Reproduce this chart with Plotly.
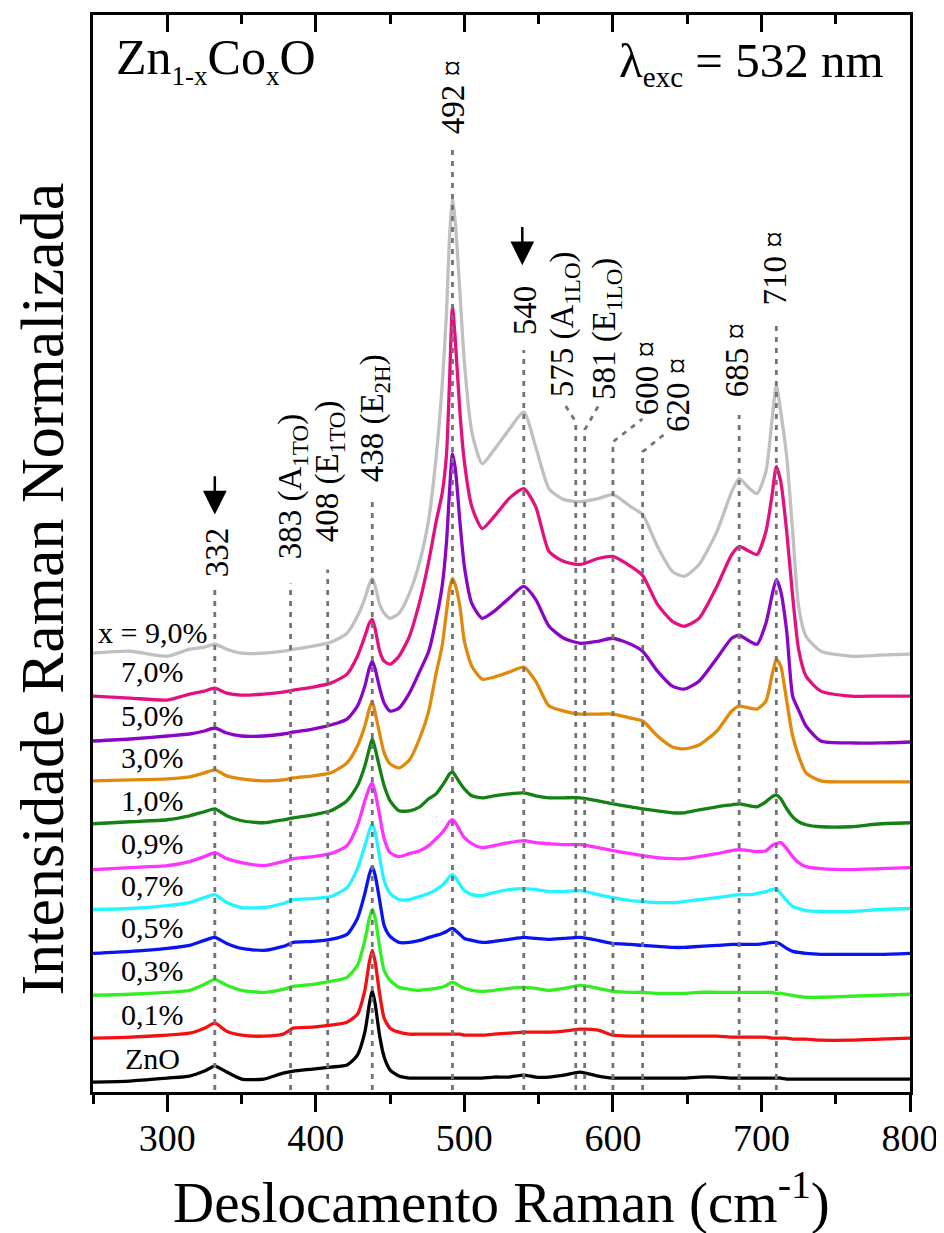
import plotly.graph_objects as go

# Raman shift grid (cm^-1)
shift_cm = [250, 275, 300, 315, 325, 332, 340, 350, 365, 378,
            385, 398, 410, 421, 428, 433, 436, 438, 440, 443,
            446, 450, 456, 463, 470, 476, 481, 485, 488, 490,
            492, 494, 497, 500, 505, 512, 520, 530, 540, 548,
            557, 567, 578, 590, 600, 612, 620, 630, 640, 648,
            658, 670, 680, 685, 692, 697, 703, 707, 710, 713,
            717, 721, 725, 730, 740, 760, 780, 800]

# Normalized (stacked) Raman intensities, arbitrary units
int_ZnO = [10, 11, 14, 16, 21, 26, 20, 13, 13, 19,
           21, 23, 25, 27, 37, 60, 88, 102, 88, 56,
           35, 22, 16, 14, 14, 14, 14, 14, 14, 14,
           14, 14, 14, 14, 14, 14, 15, 15, 17, 15,
           15, 17, 20, 16, 14, 14, 14, 14, 14, 14,
           15, 15, 14, 14, 14, 14, 14, 14, 14, 14,
           13, 13, 13, 13, 13, 13, 13, 13]
int_01 = [54, 55, 57, 59, 64, 69, 61, 57, 56, 58,
          64, 65, 67, 70, 78, 102, 130, 142, 130, 98,
          74, 64, 60, 58, 58, 58, 58, 58, 58, 58,
          58, 58, 58, 57, 57, 57, 58, 59, 60, 60,
          60, 61, 63, 62, 57, 56, 56, 56, 56, 56,
          56, 56, 55, 55, 55, 55, 55, 54, 54, 54,
          54, 53, 53, 53, 52, 52, 53, 54]
int_03 = [97, 98, 100, 102, 108, 113, 107, 102, 100, 103,
          106, 108, 111, 115, 127, 152, 174, 183, 174, 145,
          122, 112, 105, 103, 102, 103, 104, 105, 107, 109,
          110, 109, 106, 104, 102, 101, 102, 104, 105, 104,
          102, 104, 107, 104, 101, 100, 100, 99, 99, 99,
          100, 100, 100, 100, 100, 100, 100, 100, 99, 99,
          98, 97, 96, 95, 95, 96, 97, 98]
int_05 = [139, 141, 144, 147, 152, 155, 149, 144, 142, 146,
          150, 151, 153, 158, 174, 199, 218, 226, 217, 192,
          167, 156, 150, 150, 152, 155, 157, 159, 161, 163,
          164, 162, 158, 154, 152, 150, 151, 153, 155, 154,
          153, 154, 155, 152, 149, 148, 147, 146, 145, 145,
          146, 147, 148, 148, 148, 148, 149, 150, 150, 148,
          144, 141, 140, 139, 138, 138, 138, 139]
int_07 = [183, 184, 187, 190, 195, 198, 190, 185, 185, 189,
          193, 194, 196, 205, 224, 247, 262, 269, 260, 235,
          212, 199, 193, 193, 196, 199, 203, 207, 212, 216,
          218, 215, 208, 202, 198, 197, 200, 203, 204, 203,
          201, 201, 202, 198, 195, 192, 191, 190, 190, 191,
          193, 195, 197, 198, 198, 199, 201, 203, 204, 199,
          192, 186, 184, 182, 181, 181, 183, 184]
int_09 = [223, 225, 227, 231, 236, 240, 234, 230, 227, 231,
          234, 236, 239, 247, 267, 292, 305, 310, 300, 277,
          254, 240, 236, 239, 242, 247, 254, 260, 266, 271,
          273, 270, 262, 255, 249, 245, 247, 250, 252, 250,
          249, 248, 248, 245, 242, 239, 237, 235, 234, 234,
          236, 239, 242, 243, 242, 241, 242, 247, 249, 250,
          244, 236, 230, 226, 224, 223, 224, 225]
int_10 = [269, 271, 273, 277, 281, 284, 277, 272, 270, 273,
          275, 278, 282, 292, 307, 327, 344, 354, 344, 325,
          307, 292, 282, 282, 286, 294, 299, 307, 314, 319,
          321, 317, 310, 304, 297, 295, 297, 299, 300, 297,
          295, 295, 295, 292, 289, 286, 284, 282, 280, 280,
          283, 286, 288, 289, 287, 286, 291, 296, 298, 294,
          284, 276, 271, 268, 266, 266, 269, 270]
int_30 = [312, 313, 314, 316, 320, 323, 317, 314, 312, 313,
          315, 317, 320, 330, 347, 367, 384, 392, 380, 359,
          340, 329, 325, 333, 355, 382, 420, 447, 482, 504,
          515, 508, 487, 452, 427, 414, 416, 421, 426, 412,
          387, 382, 379, 379, 379, 375, 372, 357, 346, 344,
          348, 362, 382, 387, 385, 384, 392, 417, 434, 427,
          392, 357, 337, 320, 312, 311, 311, 311]
int_50 = [352, 354, 357, 359, 362, 365, 360, 357, 357, 359,
          361, 364, 368, 374, 387, 407, 425, 432, 424, 405,
          390, 382, 385, 400, 422, 442, 474, 507, 552, 602,
          640, 624, 572, 527, 490, 475, 482, 495, 507, 494,
          467, 455, 450, 452, 455, 449, 442, 422, 407, 404,
          412, 435, 455, 458, 452, 449, 470, 497, 514, 502,
          462, 397, 383, 367, 352, 350, 350, 351]
int_70 = [397, 395, 393, 399, 402, 405, 400, 398, 399, 401,
          403, 406, 410, 419, 437, 457, 470, 474, 464, 442,
          432, 429, 437, 457, 492, 532, 572, 600, 640, 712,
          787, 752, 682, 632, 587, 565, 577, 595, 605, 587,
          542, 532, 529, 535, 537, 527, 518, 489, 472, 467,
          475, 507, 539, 547, 542, 539, 562, 597, 627, 612,
          562, 497, 444, 417, 402, 397, 397, 397]
int_90 = [440, 442, 437, 444, 446, 449, 444, 440, 440, 442,
          444, 447, 451, 460, 477, 495, 509, 515, 507, 489,
          480, 475, 480, 500, 532, 574, 637, 707, 782, 857,
          897, 870, 802, 732, 662, 630, 644, 664, 682, 647,
          605, 594, 592, 595, 599, 587, 579, 547, 522, 517,
          529, 562, 602, 615, 605, 600, 622, 672, 709, 682,
          637, 562, 487, 457, 442, 437, 438, 439]

series = [int_ZnO, int_01, int_03, int_05, int_07, int_09,
          int_10, int_30, int_50, int_70, int_90]
series_labels = ["ZnO", "0,1%", "0,3%", "0,5%", "0,7%", "0,9%",
                 "1,0%", "3,0%", "5,0%", "7,0%", "x = 9,0%"]
series_label_y = [34, 78, 122, 165, 207, 249, 292, 335, 378, 422, 461]
colors = ["#000000", "#F41010", "#33EE22", "#0A14F0", "#22F5FF", "#FF33FF",
          "#138113", "#E0890A", "#8A05C4", "#E2117F", "#C0C0C0"]

# Assigned Raman modes (dotted guide lines)
mode_pos = [332, 383, 408, 438, 492, 540, 575, 581, 600, 620, 685, 710]
mode_top = [509, 510, 524, 592, 950, 744, 672, 664, 652, 642, 679, 772]
leader_end_x = [None, None, None, None, None, None, 567.4, 591.0, 619.9, 636.7, None, None]
leader_end_y = [None, None, None, None, None, None, 690, 690, 675, 662, None, None]

mode_labels = ["332", "383 (A<sub>1TO</sub>)", "408 (E<sub>1TO</sub>)", "438 (E<sub>2H</sub>)",
               "492 ¤", "540", "575 (A<sub>1LO</sub>)", "581 (E<sub>1LO</sub>)",
               "600 ¤", "620 ¤", "685 ¤", "710 ¤"]
mode_label_x = [334, 384.5, 409.4, 439.6, 492, 541, 568, 596, 622.6, 644, 683.8, 709.3]
mode_label_y = [514, 532, 549, 609, 959, 757, 695, 692, 677, 660, 695, 787]

arrow_x = [332, 539]
arrow_tip_y = [579, 829]

FONT = "Liberation Serif, Times New Roman, serif"

fig = go.Figure()

for vals, col in zip(series, colors):
    fig.add_trace(go.Scatter(x=shift_cm, y=vals, mode="lines",
                             line=dict(color=col, width=3.3, shape="spline", smoothing=0.6),
                             showlegend=False, hoverinfo="skip"))

# dotted guide lines
gx, gy = [], []
for p, t, ex, ey in zip(mode_pos, mode_top, leader_end_x, leader_end_y):
    gx += [p, p]
    gy += [2, t]
    if ex is not None:
        gx += [ex]
        gy += [ey]
    gx.append(None)
    gy.append(None)
fig.add_trace(go.Scatter(x=gx, y=gy, mode="lines",
                         line=dict(color="#737373", width=2.8, dash="5px,6px"),
                         showlegend=False, hoverinfo="skip"))

# dummy trace for the top axis
fig.add_trace(go.Scatter(x=[250, 800], y=[None, None], xaxis="x2", mode="lines",
                         showlegend=False, hoverinfo="skip"))

for txt, yv in zip(series_labels, series_label_y):
    fig.add_annotation(x=290, y=yv, text=txt, showarrow=False,
                       xanchor="center", yanchor="middle",
                       font=dict(family=FONT, size=30, color="black"))

for txt, xv, yv in zip(mode_labels, mode_label_x, mode_label_y):
    fig.add_annotation(x=xv, y=yv, text=txt, showarrow=False, textangle=-90,
                       xanchor="center", yanchor="bottom",
                       font=dict(family=FONT, size=33, color="black"))

for ax_, ay_ in zip(arrow_x, arrow_tip_y):
    fig.add_annotation(x=ax_, y=ay_, ax=ax_, ay=ay_ + 40, axref="x", ayref="y",
                       text="", showarrow=True, arrowhead=2, arrowsize=1.9,
                       arrowwidth=2.5, arrowcolor="black", standoff=0)

fig.add_annotation(x=264, y=1068, text="Zn<sub><span style='font-size:27px'>1-x</span></sub>Co<sub><span style='font-size:27px'>x</span></sub>O",
                   showarrow=False, xanchor="left", yanchor="top",
                   font=dict(family=FONT, size=50, color="black"))
fig.add_annotation(x=784, y=1064, text="λ<sub><span style='font-size:29px'>exc</span></sub> = 532 nm",
                   showarrow=False, xanchor="right", yanchor="top",
                   font=dict(family=FONT, size=49, color="black"))

fig.add_annotation(xref="paper", yref="paper", x=0.5, y=-0.063,
                   text="Deslocamento Raman (cm<sup>-1</sup>)", showarrow=False,
                   xanchor="center", yanchor="top",
                   font=dict(family=FONT, size=57, color="black"))
fig.add_annotation(xref="paper", yref="paper", x=-0.062, y=0.467,
                   text="Intensidade Raman Normalizada", showarrow=False, textangle=-90,
                   xanchor="center", yanchor="middle",
                   font=dict(family=FONT, size=62, color="black"))

axis_common = dict(range=[250, 800], showgrid=False, zeroline=False,
                   tickwidth=2.5, tickcolor="black", ticklen=17,
                   tick0=300, dtick=100)
fig.update_layout(
    width=936, height=1225,
    margin=dict(l=85, r=34, t=4, b=141),
    paper_bgcolor="white", plot_bgcolor="white",
    xaxis=dict(**axis_common, ticks="outside", showline=True, linewidth=2.5,
               linecolor="black", mirror=True, ticklabelstandoff=-6,
               tickfont=dict(family=FONT, size=38, color="black"),
               minor=dict(ticks="outside", ticklen=9, tickwidth=2.5,
                          tickcolor="black", tick0=250, dtick=50)),
    xaxis2=dict(**axis_common, ticks="inside", overlaying="x", side="top",
                anchor="y", showticklabels=False, showline=False,
                minor=dict(ticks="inside", ticklen=9, tickwidth=2.5,
                           tickcolor="black", tick0=250, dtick=50)),
    yaxis=dict(range=[0, 1080], showgrid=False, zeroline=False, showticklabels=False,
               ticks="", showline=True, linewidth=2.5, linecolor="black", mirror=True),
)

fig.write_html("out.html")
